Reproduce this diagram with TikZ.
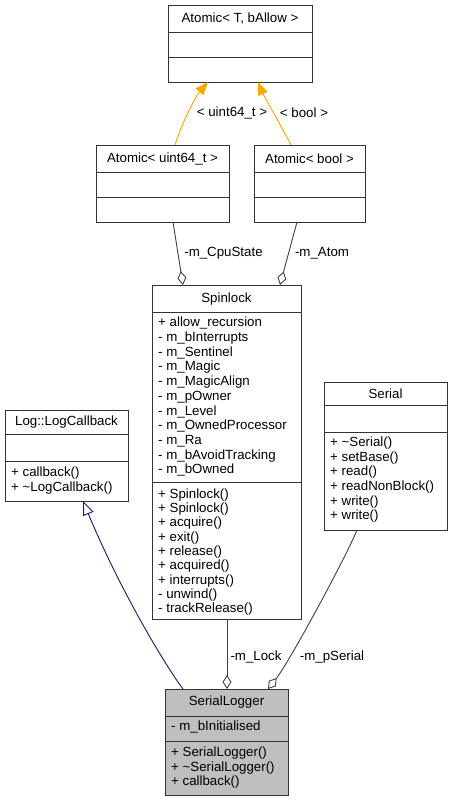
\documentclass[tikz,border=0pt]{standalone}
\usepackage{fontspec}
\setmainfont{Liberation Sans}
\usetikzlibrary{arrows.meta,fit,calc}
\definecolor{edgegray}{HTML}{404040}
\definecolor{tmplorange}{HTML}{FFA500}
\definecolor{inhnavy}{HTML}{191970}
\definecolor{boxgray}{HTML}{BFBFBF}
\definecolor{boxline}{HTML}{333333}
\begin{document}
\begin{tikzpicture}[x=1pt,y=-1pt,
  box/.style={draw=boxline, line width=1pt, inner sep=0pt, outer sep=0pt, fill=white},
  sep/.style={draw=boxline, line width=1pt},
  ttl/.style={font=\fontsize{13.3}{14.7}\selectfont, inner sep=0pt},
  lst/.style={font=\fontsize{13.3}{14.7}\selectfont, inner sep=0pt, align=left, anchor=north west},
  lstm/.style={font=\fontsize{13.3}{14.3}\selectfont, inner sep=0pt, align=left, anchor=north west},
  lbl/.style={font=\fontsize{13.3}{14.7}\selectfont, inner sep=0pt},
  aggr/.style={draw=edgegray, line width=0.9pt, {Diamond[open, length=14pt, width=9pt, line width=0.9pt]}-},
  tmpl/.style={draw=tmplorange, line width=0.9pt, -{Triangle[length=13pt, width=10pt]}},
  inh/.style={draw=inhnavy, line width=0.9pt, -{Triangle[open, length=14pt, width=11pt, line width=0.9pt]}}]
\useasboundingbox (0,0) rectangle (454,801);

% Atomic< T, bAllow >
\node[box, fit={(168,5) (312,82)}] (atomT) {};
\draw[sep] (168,32) -- (312,32);
\draw[sep] (168,57) -- (312,57);
\node[ttl] (atomTt) at (240,18.5) {Atomic< T, bAllow >};

% Atomic< uint64_t >
\node[box, fit={(96,145) (229,222)}] (atomU) {};
\draw[sep] (96,172) -- (229,172);
\draw[sep] (96,197) -- (229,197);
\node[ttl] (atomUt) at (162.5,158.5) {Atomic< uint64\_t >};

% Atomic< bool >
\node[box, fit={(254,145) (365,222)}] (atomB) {};
\draw[sep] (254,172) -- (365,172);
\draw[sep] (254,197) -- (365,197);
\node[ttl] (atomBt) at (309.5,158.5) {Atomic< bool >};

% Spinlock
\node[box, fit={(152,285) (301,619)}] (spin) {};
\draw[sep] (152,312.5) -- (301,312.5);
\draw[sep] (152,482) -- (301,482);
\node[ttl] (spint) at (226.5,299) {Spinlock};
\node[lst] (spina) at (158,317) {+ allow\_recursion\\- m\_bInterrupts\\- m\_Sentinel\\- m\_Magic\\- m\_MagicAlign\\- m\_pOwner\\- m\_Level\\- m\_OwnedProcessor\\- m\_Ra\\- m\_bAvoidTracking\\- m\_bOwned};
\node[lstm] (spinm) at (158,488.5) {+ Spinlock()\\+ Spinlock()\\+ acquire()\\+ exit()\\+ release()\\+ acquired()\\+ interrupts()\\- unwind()\\- trackRelease()};

% Log::LogCallback
\node[box, fit={(5,410) (128,501)}] (logcb) {};
\draw[sep] (5,434) -- (128,434);
\draw[sep] (5,461) -- (128,461);
\node[ttl] (logcbt) at (66.5,422) {Log::LogCallback};
\node[lst] (logcbm) at (11,467) {+ callback()\\+ \textasciitilde LogCallback()};

% Serial
\node[box, fit={(324,382) (447,530)}] (serial) {};
\draw[sep] (324,405) -- (447,405);
\draw[sep] (324,432) -- (447,432);
\node[ttl] (serialt) at (385.5,393.5) {Serial};
\node[lst] (serialm) at (330,436.5) {+ \textasciitilde Serial()\\+ setBase()\\+ read()\\+ readNonBlock()\\+ write()\\+ write()};

% SerialLogger
\node[box, fill=boxgray, fit={(165,689) (288,795)}] (slog) {};
\draw[sep] (165,716) -- (288,716);
\draw[sep] (165,741) -- (288,741);
\node[ttl] (slogt) at (226.5,702.5) {SerialLogger};
\node[lst] (sloga) at (171,720.5) {- m\_bInitialised};
\node[lst] (slogm) at (171,746.5) {+ SerialLogger()\\+ \textasciitilde SerialLogger()\\+ callback()};

% template instantiation edges
\draw[tmpl] ($(atomU.north)+(12.5,0)$) .. controls +(8,-25) and +(-12,14) .. ($(atomT.south)+(-32,0)$);
\draw[tmpl] ($(atomB.north)+(-18.5,0)$) .. controls +(-6,-12) and +(5,12) .. ($(atomT.south)+(18,0)$);
\node[lbl] (lu) at (232,113) {< uint64\_t >};
\node[lbl] (lb) at (304,113) {< bool >};

% aggregation edges
\draw[aggr] ($(spin.north)+(-43.5,0)$) -- ($(atomU.south)+(10.5,0)$);
\node[lbl] (lcpu) at (223.5,253) {-m\_CpuState};
\draw[aggr] ($(spin.north)+(53.5,0)$) -- ($(atomB.south)+(-12.5,0)$);
\node[lbl] (latom) at (322,253) {-m\_Atom};
\draw[aggr] ($(slog.north)+(0.5,0)$) -- ($(spin.south)+(0.5,0)$);
\node[lbl] (llock) at (256,657) {-m\_Lock};
\draw[aggr] ($(slog.north)+(41.5,0)$) .. controls +(22,-28) and +(-10,25) .. ($(serial.south)+(-28.5,0)$);
\node[lbl] (lser) at (332,657) {-m\_pSerial};

% inheritance
\draw[inh] ($(slog.north)+(-43.5,0)$) .. controls +(-18,-24) and +(37,89) .. ($(logcb.south)+(16.5,0)$);
\end{tikzpicture}
\end{document}
